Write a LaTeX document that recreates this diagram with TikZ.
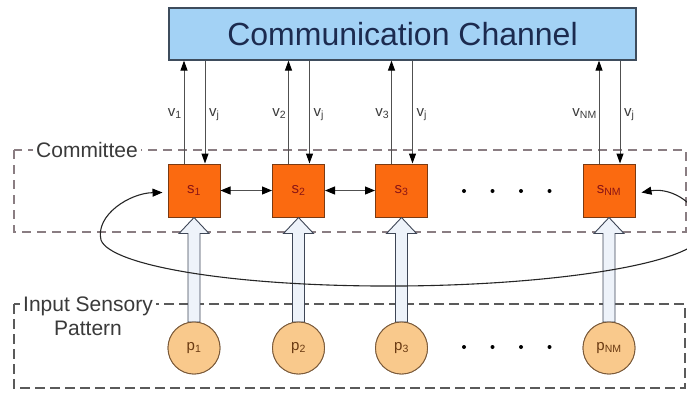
\documentclass[tikz,border=0pt]{standalone}
\usepackage{fontspec}
\setmainfont{Liberation Sans}
\usetikzlibrary{arrows.meta,calc}

\definecolor{chanfill}{HTML}{A3D2F5}
\definecolor{chanedge}{HTML}{3E4C5C}
\definecolor{chantext}{HTML}{1C2B4F}
\definecolor{sfill}{HTML}{FB6A10}
\definecolor{sedge}{HTML}{7A3A12}
\definecolor{stext}{HTML}{8B1515}
\definecolor{pfill}{HTML}{F9C98C}
\definecolor{pedge}{HTML}{7A5A3A}
\definecolor{ptext}{HTML}{6A3A12}
\definecolor{linkgray}{HTML}{505050}
\definecolor{labgray}{HTML}{3A3A3A}
\definecolor{framegray}{HTML}{8A7D82}
\definecolor{framedark}{HTML}{5A5A5A}
\definecolor{shaftfill}{HTML}{EEF3FA}
\definecolor{shaftedge}{HTML}{3E4656}

\begin{document}
\begin{tikzpicture}[x=1pt,y=-1pt,
  chanbox/.style={draw=chanedge, fill=chanfill, line width=1.2pt,
    minimum width=467pt, minimum height=52pt, inner sep=0pt,
    text=chantext, font=\fontsize{32}{32}\selectfont},
  sbox/.style={draw=sedge, fill=sfill, line width=1pt,
    minimum width=52pt, minimum height=53pt, inner sep=0pt,
    text=stext, font=\fontsize{15}{15}\selectfont},
  pcirc/.style={circle, draw=pedge, fill=pfill, line width=0.9pt,
    minimum size=52pt, inner sep=0pt,
    text=ptext, font=\fontsize{15}{15}\selectfont},
  uplink/.style={draw=linkgray, line width=1pt,
    -{Triangle[length=10pt,width=7pt,black]}},
  peerlink/.style={draw=linkgray, line width=1pt,
    {Triangle[length=10pt,width=8pt,black]}-{Triangle[length=10pt,width=8pt,black]}},
  vlab/.style={font=\fontsize{15}{15}\selectfont, text=labgray, inner sep=1pt},
  grouplab/.style={font=\fontsize{21}{24}\selectfont, text=labgray,
    fill=white, inner xsep=3pt, inner ysep=1pt, align=center},
  commframe/.style={draw=framegray, line width=1.3pt, dash pattern=on 9pt off 6pt},
  inframe/.style={draw=framedark, line width=1.5pt, dash pattern=on 10pt off 5pt},
  blockarrow/.style={draw=shaftedge, fill=shaftfill, line width=0.9pt, line join=miter},
  loop/.style={draw=black!85, line width=1.1pt,
    {Triangle[length=10pt,width=8pt,black]}-{Triangle[length=10pt,width=8pt,black]}},
  dot/.style={circle, fill=black, inner sep=0pt, minimum size=4pt}
]
\useasboundingbox (0,0) rectangle (687,392);

% group frames
\draw[commframe] (14,150) rectangle (686,232);
\draw[inframe] (14,304) rectangle (685,388);
\node[grouplab, anchor=west] (commlab) at (33,150) {Committee};
\node[grouplab] (inlab) at (88,316) {Input Sensory\\Pattern};

% communication channel
\node[chanbox] (chan) at (402.5,34) {Communication Channel};

% committee members
\node[sbox] (s1)  at (194,190.5)   {s\textsubscript{1}};
\node[sbox] (s2)  at (298.5,190.5) {s\textsubscript{2}};
\node[sbox] (s3)  at (401.5,190.5) {s\textsubscript{3}};
\node[sbox] (sNM) at (609,190.5)   {s\textsubscript{NM}};

% input sensory pattern
\node[pcirc] (p1)  at (194,348)   {p\textsubscript{1}};
\node[pcirc] (p2)  at (298.5,348) {p\textsubscript{2}};
\node[pcirc] (p3)  at (401.5,348) {p\textsubscript{3}};
\node[pcirc] (pNM) at (609,348)   {p\textsubscript{NM}};

% hollow block arrows from patterns to members
\foreach \n in {1,2,3,NM}{
  \draw[blockarrow]
    ($(p\n.north)+(-6,0.5)$) -- ($(s\n.south)+(-6,16)$) --
    ($(s\n.south)+(-15,16)$) -- (s\n.south) --
    ($(s\n.south)+(15,16)$) -- ($(s\n.south)+(6,16)$) --
    ($(p\n.north)+(6,0.5)$) -- cycle;
  \node[pcirc] at (p\n) {p\textsubscript{\n}};
}

% links between members and the channel
\foreach \n/\lab in {1/1,2/2,3/3,NM/NM}{
  \draw[uplink] ([xshift=-10pt]s\n.north) -- ([xshift=-10pt]s\n.north |- chan.south);
  \draw[uplink] ([xshift=11pt]s\n.north |- chan.south) -- ([xshift=11pt]s\n.north);
  \node[vlab, anchor=base east] at ([xshift=-11pt]s\n.north |- 0,116) {v\textsubscript{\lab}};
  \node[vlab, anchor=base west] at ([xshift=14pt]s\n.north |- 0,116) {v\textsubscript{j}};
}

% neighbour links
\draw[peerlink] (s1.east) -- (s2.west);
\draw[peerlink] (s2.east) -- (s3.west);

% ellipsis dots
\foreach \x in {464,492.5,521,549.5}{
  \node[dot] at (\x,191) {};
  \node[dot] at (\x,347) {};
}

% wrap-around link from the last member back to the first
\draw[loop] ([xshift=6pt,yshift=-2pt]sNM.east)
  .. controls (672,187) and (702,205) .. (702,233)
  .. controls (702,262) and (560,285) .. (400,286)
  .. controls (230,287) and (110,265) .. (101,240)
  .. controls (95,215) and (130,193) .. ([xshift=-5pt,yshift=-2pt]s1.west);
\end{tikzpicture}
\end{document}
